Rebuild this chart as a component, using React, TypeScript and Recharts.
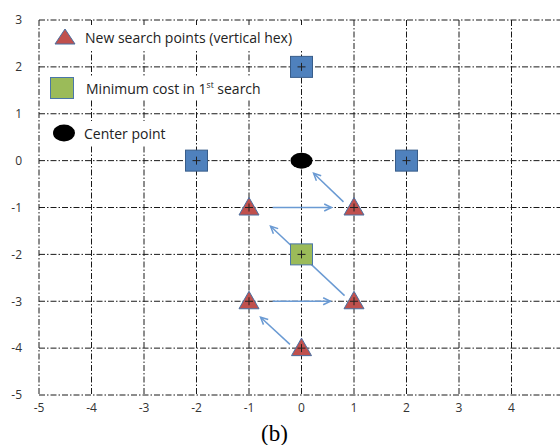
import {
  ScatterChart,
  Scatter,
  XAxis,
  YAxis,
  CartesianGrid,
  ReferenceLine,
} from "recharts";

// marker positions
const searchPoints = [
  { x: 0, y: 2 },
  { x: -2, y: 0 },
  { x: 2, y: 0 },
];
const centerPoint = [{ x: 0, y: 0 }];
const minCostPoint = [{ x: 0, y: -2 }];
const newPoints = [
  { x: -1, y: -1 },
  { x: 1, y: -1 },
  { x: -1, y: -3 },
  { x: 1, y: -3 },
  { x: 0, y: -4 },
];

// arrows: from -> to
const arrows = [
  { from: [0.8, -0.88], to: [0.23, -0.27] },
  { from: [-0.55, -1], to: [0.57, -1] },
  { from: [0.82, -2.88], to: [-0.59, -1.4] },
  { from: [-0.55, -3], to: [0.55, -3] },
  { from: [-0.22, -3.92], to: [-0.78, -3.34] },
];

// the 5 column sits just past the right edge of the picture
const xTicks = [-5, -4, -3, -2, -1, 0, 1, 2, 3, 4];
const yTicks = [-5, -4, -3, -2, -1, 0, 1, 2, 3];

const legendItems = [
  { label: "New search points (vertical hex)", kind: "triangle" },
  { label: "Minimum cost in 1", sup: "st", rest: " search", kind: "square" },
  { label: "Center point", kind: "ellipse" },
];

const FONT = "'Open Sans', Lato, sans-serif";
const BLUE = "#4F81BD";
const RED = "#C0504D";
const GREEN = "#9BBB59";
const ARROW = "#6A9AD3";

const Plus = ({ cx, cy }: { cx: number; cy: number }) => (
  <g stroke="#222" strokeWidth={1}>
    <line x1={cx - 4} y1={cy} x2={cx + 4} y2={cy} />
    <line x1={cx} y1={cy - 4} x2={cx} y2={cy + 4} />
  </g>
);

const BlueSquare = (props: any) => {
  const { cx, cy } = props;
  return (
    <g>
      <rect x={cx - 11} y={cy - 10.5} width={22} height={21} fill={BLUE} stroke="#385D8A" strokeWidth={1} />
      <Plus cx={cx} cy={cy} />
    </g>
  );
};

const GreenSquare = (props: any) => {
  const { cx, cy } = props;
  return (
    <g>
      <rect x={cx - 11} y={cy - 10.5} width={22} height={21} fill={GREEN} stroke="#4A76A8" strokeWidth={1} />
      <Plus cx={cx} cy={cy} />
    </g>
  );
};

const Ellipse = (props: any) => {
  const { cx, cy } = props;
  return <ellipse cx={cx} cy={cy} rx={11} ry={8} fill="#000" />;
};

const Triangle = (props: any) => {
  const { cx, cy } = props;
  return (
    <g>
      <polygon
        points={`${cx},${cy - 10} ${cx + 10},${cy + 7.5} ${cx - 10},${cy + 7.5}`}
        fill={RED}
        stroke="#4A6FA0"
        strokeWidth={1}
      />
      <Plus cx={cx} cy={cy} />
    </g>
  );
};

const ArrowShape = (props: any) => {
  const { x1, y1, x2, y2 } = props;
  const a = Math.atan2(y2 - y1, x2 - x1);
  const len = 8;
  const spread = 0.45;
  const p1 = [x2 - len * Math.cos(a - spread), y2 - len * Math.sin(a - spread)];
  const p2 = [x2 - len * Math.cos(a + spread), y2 - len * Math.sin(a + spread)];
  return (
    <g stroke={ARROW} strokeWidth={1.5} fill="none">
      <line x1={x1} y1={y1} x2={x2} y2={y2} />
      <polyline points={`${p1[0]},${p1[1]} ${x2},${y2} ${p2[0]},${p2[1]}`} />
    </g>
  );
};

const LegendIcon = ({ kind }: { kind: string }) => (
  <svg width={26} height={24} style={{ display: "block", flex: "none" }}>
    {kind === "triangle" && (
      <polygon points="13,4 23,19 3,19" fill={RED} stroke="#4A6FA0" strokeWidth={1} />
    )}
    {kind === "square" && (
      <rect x={1.5} y={1.5} width={23} height={21} fill={GREEN} stroke="#4A76A8" strokeWidth={1} />
    )}
    {kind === "ellipse" && <ellipse cx={13} cy={12} rx={11} ry={8.5} fill="#000" />}
  </svg>
);

const legendRows = [
  { top: 25, left: 52, width: 252, gap: 7 },
  { top: 76, left: 49, width: 222, gap: 11 },
  { top: 121, left: 51, width: 120, gap: 7 },
];

export default function App() {
  return (
    <div style={wrapStyle}>
      <ScatterChart width={600} height={445} margin={{ top: 20, right: 36, bottom: 0, left: 0 }}>
        <CartesianGrid stroke="#1a1a1a" strokeDasharray="6 2 1.5 2" strokeWidth={1} />
        <XAxis
          type="number"
          dataKey="x"
          domain={[-5, 5]}
          ticks={xTicks}
          axisLine={false}
          tickLine={false}
          tickSize={0}
          tickMargin={8}
          height={50}
          interval={0}
          tick={{ fontSize: 12, fill: "#333", fontFamily: FONT }}
        />
        <YAxis
          type="number"
          dataKey="y"
          domain={[-5, 3]}
          ticks={yTicks}
          axisLine={false}
          tickLine={false}
          tickSize={0}
          tickMargin={17}
          width={39}
          interval={0}
          tick={{ fontSize: 12, fill: "#333", fontFamily: FONT }}
        />
        {arrows.map((a, i) => (
          <ReferenceLine
            key={i}
            segment={[
              { x: a.from[0], y: a.from[1] },
              { x: a.to[0], y: a.to[1] },
            ]}
            shape={ArrowShape}
          />
        ))}
        <Scatter data={searchPoints} shape={BlueSquare} isAnimationActive={false} />
        <Scatter data={centerPoint} shape={Ellipse} isAnimationActive={false} />
        <Scatter data={minCostPoint} shape={GreenSquare} isAnimationActive={false} />
        <Scatter data={newPoints} shape={Triangle} isAnimationActive={false} />
      </ScatterChart>

      {legendItems.map((item, i) => {
        const row = legendRows[i];
        return (
          <div
            key={item.label}
            style={{
              ...legendRowStyle,
              top: row.top,
              left: row.left,
              width: row.width,
              gap: row.gap,
            }}
          >
            <LegendIcon kind={item.kind} />
            <span>
              {item.label}
              {item.sup && <sup style={{ fontSize: 8.5 }}>{item.sup}</sup>}
              {item.rest}
            </span>
          </div>
        );
      })}

      <div style={captionStyle}>(b)</div>
    </div>
  );
}

const wrapStyle: React.CSSProperties = {
  position: "fixed",
  left: 0,
  top: 0,
  width: 560,
  height: 445,
  overflow: "hidden",
  background: "#fff",
};

const legendRowStyle: React.CSSProperties = {
  position: "absolute",
  height: 24,
  display: "flex",
  alignItems: "center",
  background: "#fff",
  fontFamily: FONT,
  fontSize: 14,
  color: "#222",
  whiteSpace: "nowrap",
};

const captionStyle: React.CSSProperties = {
  position: "absolute",
  left: 261,
  top: 422,
  fontFamily: "'Liberation Serif', serif",
  fontSize: 23,
  lineHeight: 1,
  color: "#000",
};
